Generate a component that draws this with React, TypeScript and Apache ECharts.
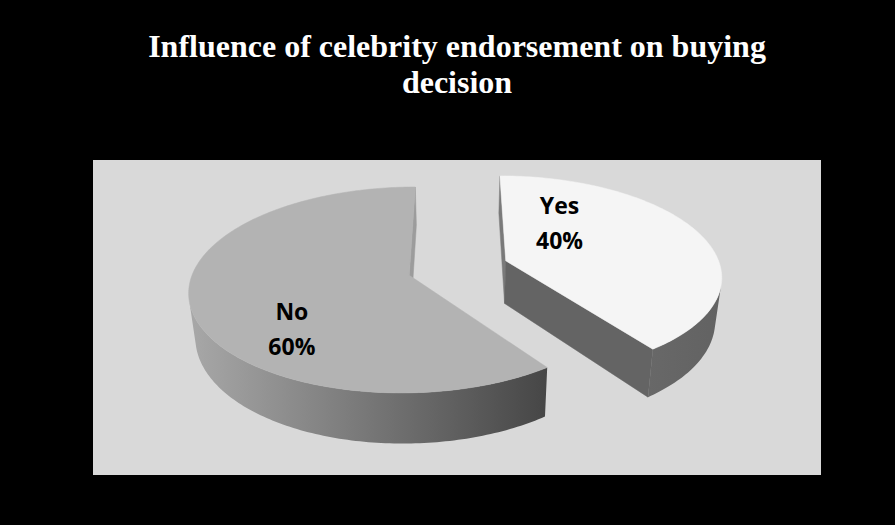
import React, { useEffect, useRef } from "react";
import * as echarts from "echarts";

// ---- data ----
const categories: string[] = ["Yes", "No"];
const values: number[] = [40, 60];
const titleText = "Influence of celebrity endorsement on buying\ndecision";

// ---- style (not data) ----
const topColors = ["#f5f5f5", "#b3b3b3"];
const sideColors = [
  ["#686868", "#626262"],
  ["#a8a8a8", "#464646"],
];
const startFaceColors = ["#7a7a7a", "#5a5a5a"];
const endFaceColors = ["#646464", "#9c9c9c"];
const labelPlacement = [
  { angle: 33.5, radius: 0.509 },
  { angle: 225, radius: 0.689 },
];

// projection parameters
const CX = 458;
const CY = 268;
const RX = 215;
const RY = 98.8;
const PERSP = 0.141;
const EXPLODE = 0.236;
const DEPTH = 43;
const KB = 0.975;

function proj(X: number, Z: number) {
  const s = 1 / (1 - PERSP * Z);
  const x = CX + RX * X * s;
  const y = CY + RY * Z * s;
  return { x, y, s };
}
function top(X: number, Z: number): number[] {
  const p = proj(X, Z);
  return [p.x, p.y];
}
function bottom(X: number, Z: number): number[] {
  const p = proj(X, Z);
  return [CX + (p.x - CX) * KB, p.y + DEPTH * p.s];
}
function area(pts: number[][]) {
  let a = 0;
  for (let i = 0; i < pts.length; i++) {
    const [x1, y1] = pts[i];
    const [x2, y2] = pts[(i + 1) % pts.length];
    a += x1 * y2 - x2 * y1;
  }
  return a;
}
const rad = (d: number) => (d * Math.PI) / 180;

const total = values.reduce((a, b) => a + b, 0);
const startAngles: number[] = [];
{
  let acc = 0;
  values.forEach((v) => {
    startAngles.push((acc / total) * 360);
    acc += v;
  });
}

function renderItem(params: any, api: any) {
  const i = params.dataIndex;
  const v = api.value(0);
  const a0 = startAngles[i];
  const a1 = a0 + (v / total) * 360;
  const mid = (a0 + a1) / 2;
  const ex = EXPLODE * Math.sin(rad(mid));
  const ez = -EXPLODE * Math.cos(rad(mid));
  const n = Math.max(8, Math.ceil((a1 - a0) / 1));
  const world: number[][] = [];
  for (let k = 0; k <= n; k++) {
    const t = a0 + ((a1 - a0) * k) / n;
    world.push([ex + Math.sin(rad(t)), ez - Math.cos(rad(t))]);
  }
  const children: any[] = [];

  // cut faces
  const apexT = top(ex, ez);
  const apexB = bottom(ex, ez);
  const s0T = top(world[0][0], world[0][1]);
  const s0B = bottom(world[0][0], world[0][1]);
  const startFace = [apexT, s0T, s0B, apexB];
  if (area(startFace) < 0) {
    children.push({
      type: "polygon",
      shape: { points: startFace },
      style: { fill: startFaceColors[i], stroke: startFaceColors[i], lineWidth: 0.5 },
    });
  }
  const e1T = top(world[n][0], world[n][1]);
  const e1B = bottom(world[n][0], world[n][1]);
  const endFace = [apexT, e1T, e1B, apexB];
  if (area(endFace) > 0) {
    children.push({
      type: "polygon",
      shape: { points: endFace },
      style: { fill: endFaceColors[i], stroke: endFaceColors[i], lineWidth: 0.5 },
    });
  }

  // outer side: visible runs
  const runs: number[][] = [];
  let cur: number[] | null = null;
  for (let k = 0; k < n; k++) {
    const q = [
      top(world[k][0], world[k][1]),
      top(world[k + 1][0], world[k + 1][1]),
      bottom(world[k + 1][0], world[k + 1][1]),
      bottom(world[k][0], world[k][1]),
    ];
    const vis = area(q) < 0;
    if (vis) {
      if (!cur) {
        cur = [k, k + 1];
        runs.push(cur);
      } else cur[1] = k + 1;
    } else cur = null;
  }
  runs.forEach(([ka, kb]) => {
    const pts: number[][] = [];
    for (let k = ka; k <= kb; k++) pts.push(top(world[k][0], world[k][1]));
    for (let k = kb; k >= ka; k--) pts.push(bottom(world[k][0], world[k][1]));
    let xmin = Infinity;
    let xmax = -Infinity;
    pts.forEach((p) => {
      xmin = Math.min(xmin, p[0]);
      xmax = Math.max(xmax, p[0]);
    });
    children.push({
      type: "polygon",
      shape: { points: pts },
      style: {
        fill: {
          type: "linear",
          x: xmin,
          y: 0,
          x2: xmax,
          y2: 0,
          global: true,
          colorStops: [
            { offset: 0, color: sideColors[i][0] },
            { offset: 1, color: sideColors[i][1] },
          ],
        },
      },
    });
  });

  // top face
  const topPts = [apexT, ...world.map((w) => top(w[0], w[1]))];
  children.push({
    type: "polygon",
    shape: { points: topPts },
    style: { fill: topColors[i], stroke: topColors[i], lineWidth: 0.5 },
  });

  // label
  const lp = labelPlacement[i];
  const lx = ex + lp.radius * Math.sin(rad(lp.angle));
  const lz = ez - lp.radius * Math.cos(rad(lp.angle));
  const lpt = top(lx, lz);
  children.push({
    type: "text",
    x: lpt[0],
    y: lpt[1],
    style: {
      text: categories[i] + "\n" + Math.round((v / total) * 100) + "%",
      fontFamily: "Open Sans",
      fontWeight: "bold",
      fontSize: 23,
      lineHeight: 35,
      align: "center",
      verticalAlign: "middle",
      fill: "#000000",
    },
  });

  return { type: "group", children };
}

export default function App() {
  const ref = useRef<HTMLDivElement>(null);
  useEffect(() => {
    if (!ref.current) return;
    const chart = echarts.init(ref.current, null, { renderer: "svg" });
    chart.setOption({
      animation: false,
      backgroundColor: "#000000",
      title: {
        text: titleText,
        left: 452,
        top: 23,
        padding: 5,
        textAlign: "center",
        textStyle: {
          color: "#ffffff",
          fontFamily: "Liberation Serif",
          fontWeight: "bold",
          fontSize: 32,
          lineHeight: 36,
        },
      },
      graphic: [
        {
          type: "rect",
          z: 0,
          silent: true,
          shape: { x: 93, y: 160, width: 728, height: 315 },
          style: { fill: "#d9d9d9" },
        },
      ],
      series: [
        {
          type: "custom",
          coordinateSystem: "none",
          z: 5,
          renderItem,
          data: values.map((v, i) => ({ name: categories[i], value: [v] })),
        },
      ],
    });
    return () => chart.dispose();
  }, []);
  return (
    <div
      ref={ref}
      style={{ position: "absolute", left: 0, top: 0, width: 895, height: 525 }}
    />
  );
}
